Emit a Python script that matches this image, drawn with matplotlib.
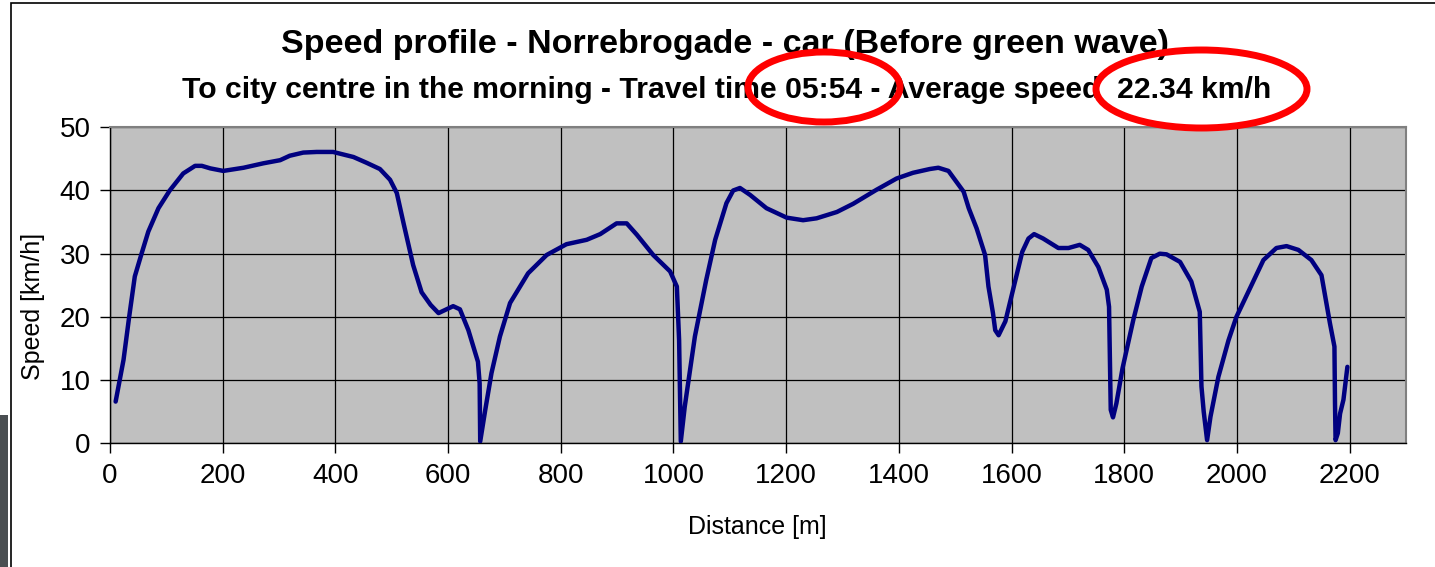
"""Speed profile chart - Norrebrogade, car, before green wave."""

import matplotlib
matplotlib.use("Agg")
import matplotlib.pyplot as plt
from matplotlib.patches import Ellipse, Rectangle

plt.rcParams["font.family"] = ["Liberation Sans", "DejaVu Sans"]

# === DATA ===
distance_m = [
    10, 24, 34, 44, 56, 68, 86, 106, 130, 151, 163, 178, 201, 237, 272, 302,
    319, 343, 367, 396, 432, 455, 479, 497, 509, 521, 538, 553, 569, 583, 609,
    621, 636, 653, 656, 657, 666, 677, 692, 710, 742, 775, 810, 846, 870, 899,
    917, 935, 964, 994, 1006, 1010, 1013, 1020, 1038, 1058, 1074, 1094, 1106,
    1118, 1136, 1165, 1201, 1230, 1254, 1290, 1319, 1360, 1396, 1425, 1455,
    1470, 1488, 1515, 1524, 1538, 1553, 1559, 1567, 1571, 1577, 1589, 1601,
    1619, 1630, 1640, 1656, 1683, 1701, 1721, 1736, 1754, 1769, 1773, 1776,
    1780, 1786, 1797, 1816, 1831, 1848, 1863, 1875, 1899, 1919, 1934, 1937,
    1941, 1947, 1953, 1967, 1985, 1999, 2023, 2047, 2070, 2088, 2109, 2132,
    2150, 2165, 2173, 2174, 2175, 2179, 2183, 2189, 2196,
]
speed_kmh = [
    6.6, 13.2, 20.0, 26.4, 30.0, 33.5, 37.2, 40.0, 42.7, 43.9, 43.9, 43.5,
    43.1, 43.6, 44.3, 44.8, 45.5, 46.0, 46.1, 46.1, 45.3, 44.4, 43.4, 41.7,
    39.6, 34.8, 28.2, 23.9, 21.9, 20.6, 21.7, 21.2, 17.9, 12.9, 9.5, 0.3, 5.3,
    11.1, 16.9, 22.2, 26.9, 29.8, 31.5, 32.2, 33.1, 34.8, 34.8, 33.0, 29.8,
    27.2, 24.8, 16.3, 0.3, 5.8, 16.9, 25.8, 32.2, 38.0, 40.0, 40.4, 39.3, 37.2,
    35.7, 35.3, 35.6, 36.6, 37.9, 40.1, 41.9, 42.8, 43.4, 43.6, 43.1, 39.8,
    37.2, 34.0, 29.8, 24.8, 20.6, 17.9, 17.1, 19.3, 23.7, 30.3, 32.4, 33.1,
    32.4, 30.9, 30.9, 31.4, 30.6, 27.9, 24.3, 21.6, 5.3, 4.1, 6.3, 11.9, 19.5,
    24.8, 29.3, 30.0, 29.9, 28.7, 25.6, 20.8, 9.0, 5.0, 0.5, 4.2, 10.5, 16.3,
    20.0, 24.5, 29.0, 30.9, 31.2, 30.6, 29.0, 26.6, 19.0, 15.3, 6.3, 0.5, 1.6,
    4.7, 6.9, 12.1,
]
x_ticks = [0, 200, 400, 600, 800, 1000, 1200, 1400, 1600, 1800, 2000, 2200]
y_ticks = [0, 10, 20, 30, 40, 50]

TITLE = "Speed profile - Norrebrogade - car (Before green wave)"
SUBTITLE = ("To city centre in the morning - Travel time 05:54 - "
            "Average speed  22.34 km/h")

# === FIGURE ===
W, H = 1435, 567
fig = plt.figure(figsize=(W / 100, H / 100), dpi=100)
fig.patch.set_facecolor("white")


def fx(px):
    return px / W


def fy(py):
    return 1 - py / H


ax = fig.add_axes([fx(110), fy(443.3), fx(1406) - fx(110), fy(127.3) - fy(443.3)])
ax.set_facecolor("#C0C0C0")
ax.plot(distance_m, speed_kmh, color="#000080", lw=3.2,
        solid_joinstyle="round", solid_capstyle="round", zorder=3)

ax.set_xlim(0, 2300)
ax.set_ylim(0, 50)
ax.set_xticks(x_ticks)
ax.set_yticks(y_ticks)
ax.grid(True, color="black", lw=0.9)
ax.set_axisbelow(True)
ax.tick_params(direction="out", length=7, width=1, labelsize=20,
               pad=7, colors="black")
for side in ("top", "right"):
    ax.spines[side].set_color("#808080")
    ax.spines[side].set_linewidth(1.5)
for side in ("left", "bottom"):
    ax.spines[side].set_color("black")
    ax.spines[side].set_linewidth(1)

fig.text(fx(33), fy(306), "Speed [km/h]", rotation=90, ha="center",
         va="center", fontsize=18)
fig.text(fx(757), fy(527), "Distance [m]", ha="center", va="center",
         fontsize=18)

fig.text(fx(725), fy(45), TITLE, ha="center", va="center", fontsize=24.5,
         fontweight="bold")
fig.text(fx(727), fy(90), SUBTITLE, ha="center", va="center", fontsize=21.7,
         fontweight="bold")

# red ellipses marking the key numbers
for cx, cy, w, h in [(824, 87, 152, 70), (1201.5, 89, 211, 78)]:
    fig.patches.append(Ellipse((fx(cx), fy(cy)), w / W, h / H,
                               transform=fig.transFigure, fill=False,
                               edgecolor="#FF0000", lw=5, zorder=10))

# chart border and background strip on the left
fig.patches.append(Rectangle((fx(10.5), fy(H + 5)), 1, fy(3) - fy(H + 5),
                             transform=fig.transFigure, fill=False,
                             edgecolor="black", lw=1.2))
fig.patches.append(Rectangle((0, 0), fx(8), fy(415), transform=fig.transFigure,
                             facecolor="#4a4f52", edgecolor="none"))

fig.savefig("out.png", dpi=100, facecolor="white")
